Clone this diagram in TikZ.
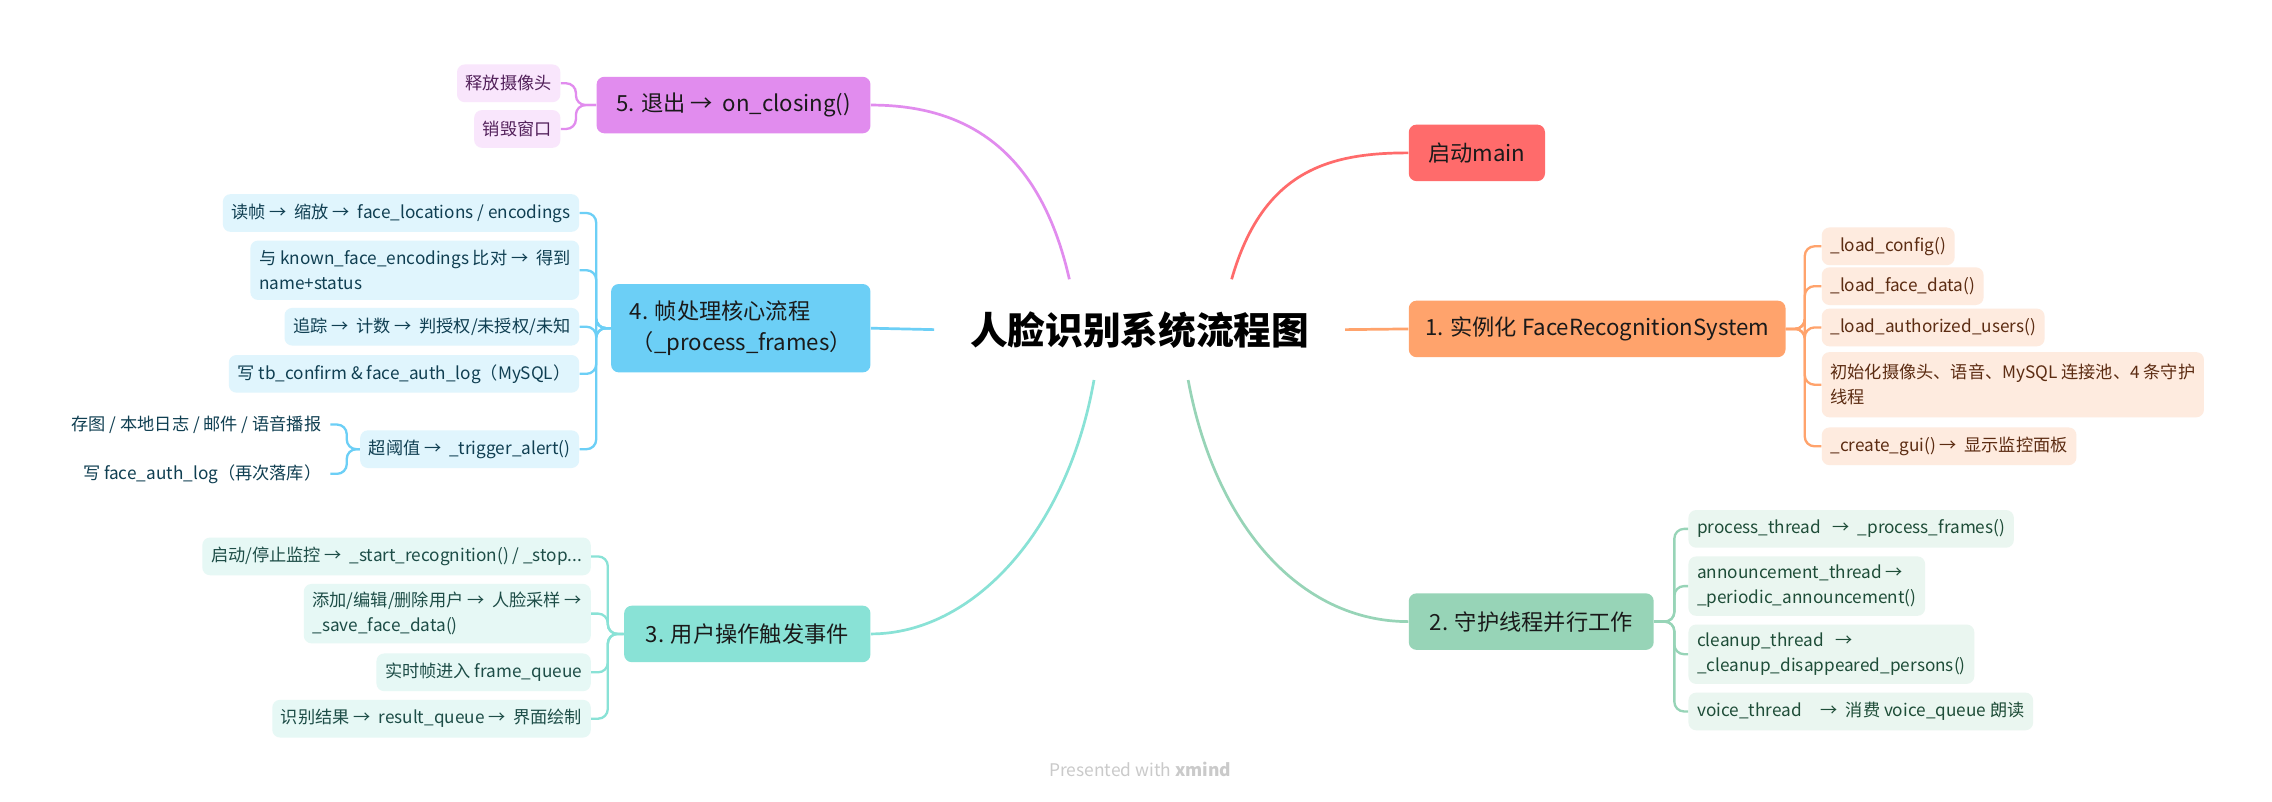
\documentclass[tikz,border=0pt]{standalone}
\usepackage{fontspec}
\setmainfont{Noto Sans CJK SC}
\usetikzlibrary{calc}
\definecolor{cRed}{HTML}{FF6B6B}
\definecolor{cOrange}{HTML}{FFA36C}
\definecolor{lOrange}{HTML}{FEEBDF}
\definecolor{tOrange}{HTML}{5C2C12}
\definecolor{cGreen}{HTML}{97D4B7}
\definecolor{lGreen}{HTML}{EAF6F0}
\definecolor{tGreen}{HTML}{1E4D38}
\definecolor{cTeal}{HTML}{89E2D6}
\definecolor{lTeal}{HTML}{E6F8F5}
\definecolor{tTeal}{HTML}{1D4D47}
\definecolor{cBlue}{HTML}{6CCFF6}
\definecolor{lBlue}{HTML}{E0F5FD}
\definecolor{tBlue}{HTML}{103F52}
\definecolor{cPurple}{HTML}{E18CEE}
\definecolor{lPurple}{HTML}{F9E6FC}
\definecolor{tPurple}{HTML}{52205A}
\definecolor{tMain}{HTML}{1A1A1A}
\definecolor{cFoot}{HTML}{CACACA}
\begin{document}
\begin{tikzpicture}[x=0.75pt,y=-0.75pt,
  mainbox/.style={rounded corners=4pt, minimum height=29.25pt, inner xsep=0pt, inner ysep=2pt,
    font=\fontsize{11.5}{16}\selectfont, text=tMain, align=left},
  kid/.style={rounded corners=4pt, minimum height=19.5pt, inner xsep=4.5pt, inner ysep=3pt,
    font=\fontsize{8.9}{12.8}\selectfont, align=left},
  bigline/.style={line width=1.4pt},
  kidline/.style={line width=1.2pt, rounded corners=5pt}
]
\useasboundingbox (0,0) rectangle (1568,553);
\fill[white] (0,0) rectangle (1568,553);

% root
\node[minimum width=212.25pt, minimum height=51.75pt, font=\fontsize{19.5}{24}\selectfont\bfseries] (root) at (786.5,227.5) {人脸识别系统流程图};

% main branches
\node[mainbox, fill=cRed, minimum width=70.5pt, anchor=west] (m0) at (972,105.5) {启动main};
\node[mainbox, fill=cOrange, minimum width=195pt, anchor=west] (m1) at (972,227) {1. 实例化 FaceRecognitionSystem};
\node[mainbox, fill=cGreen, minimum width=126.75pt, anchor=west] (m2) at (972,429) {2. 守护线程并行工作};
\node[mainbox, fill=cTeal, minimum width=127.5pt, anchor=east] (m3) at (601,437.5) {3. 用户操作触发事件};
\node[mainbox, fill=cBlue, minimum width=134.25pt, minimum height=45.75pt, anchor=east] (m4) at (601,226.5) {4. 帧处理核心流程\\\hspace*{0.1em}（\_process\_frames）};
\node[mainbox, fill=cPurple, minimum width=141.75pt, anchor=east] (m5) at (601,72.5) {5. 退出 →\ \ on\_closing()};

% root connectors
\draw[bigline, cRed] ($(root.north)+(63.5,0)$) .. controls ($(root.north)+(85,-75)$) and ($(m0.west)+(-55,0)$) .. (m0.west);
\draw[bigline, cOrange] (root.east) -- (m1.west);
\draw[bigline, cGreen] ($(root.south)+(33.5,0)$) .. controls ($(root.south)+(52,100)$) and ($(m2.west)+(-75,0)$) .. (m2.west);
\draw[bigline, cTeal] ($(root.south)+(-31.5,0)$) .. controls ($(root.south)+(-50,105)$) and ($(m3.east)+(70,0)$) .. (m3.east);
\draw[bigline, cBlue] (root.west) -- (m4.east);
\draw[bigline, cPurple] ($(root.north)+(-48.5,0)$) .. controls ($(root.north)+(-70,-95)$) and ($(m5.east)+(60,0)$) .. (m5.east);

% group 1
\begin{scope}[every node/.style={kid, fill=lOrange, text=tOrange, anchor=west}]
\node (c11) at (1257,170) {\_load\_config()};
\node (c12) at (1257,197.5) {\_load\_face\_data()};
\node (c13) at (1257,226) {\_load\_authorized\_users()};
\node[minimum height=33.75pt] (c14) at (1257,265.5) {初始化摄像头、语音、MySQL 连接池、4 条守护\\线程};
\node (c15) at (1257,308) {\_create\_gui() →\ \ 显示监控面板};
\end{scope}
\foreach \c in {c11,c12,c13,c14,c15}
  \draw[kidline, cOrange] (m1.east) -- ++(13,0) |- (\c.west);

% group 2
\begin{scope}[every node/.style={kid, fill=lGreen, text=tGreen, anchor=west}]
\node (c21) at (1165,365) {process\_thread\ \ \ →\ \ \_process\_frames()};
\node[minimum height=30.75pt] (c22) at (1165,404.5) {announcement\_thread →\\\_periodic\_announcement()};
\node[minimum height=30.75pt] (c23) at (1165,451.5) {cleanup\_thread\ \ \ →\\\_cleanup\_disappeared\_persons()};
\node (c24) at (1165,491) {voice\_thread\ \ \ \ \ →\ \ 消费 voice\_queue 朗读};
\end{scope}
\foreach \c in {c21,c22,c23,c24}
  \draw[kidline, cGreen] (m2.east) -- ++(14,0) |- (\c.west);

% group 5
\begin{scope}[every node/.style={kid, fill=lPurple, text=tPurple, anchor=east}]
\node (c51) at (387,57.5) {释放摄像头};
\node (c52) at (387,89) {销毁窗口};
\end{scope}
\foreach \c in {c51,c52}
  \draw[kidline, cPurple] (m5.west) -- ++(-14,0) |- (\c.east);

% group 4
\begin{scope}[every node/.style={kid, fill=lBlue, text=tBlue, anchor=east}]
\node (c41) at (400,147) {读帧 →\ \ 缩放 →\ \ face\_locations / encodings};
\node[minimum height=30.75pt] (c42) at (400,186.5) {与 known\_face\_encodings 比对 →\ \ 得到\\name+status};
\node (c43) at (400,225.5) {追踪 →\ \ 计数 →\ \ 判授权/未授权/未知};
\node (c44) at (400,258) {写 tb\_confirm \& face\_auth\_log（MySQL）};
\node (c45) at (400,310) {超阈值 →\ \ \_trigger\_alert()};
\end{scope}
\foreach \c in {c41,c42,c43,c44,c45}
  \draw[kidline, cBlue] (m4.west) -- ++(-10,0) |- (\c.east);

% sub group of alert
\begin{scope}[every node/.style={kid, text=tBlue, anchor=east}]
\node (c451) at (228,293) {存图 / 本地日志 / 邮件 / 语音播报};
\node (c452) at (228,327) {写 face\_auth\_log（再次落库）};
\end{scope}
\foreach \c in {c451,c452}
  \draw[kidline, cBlue] (c45.west) -- ++(-9,0) |- (\c.east);

% group 3
\begin{scope}[every node/.style={kid, fill=lTeal, text=tTeal, anchor=east}]
\node (c31) at (408,384) {启动/停止监控 →\ \ \_start\_recognition() / \_stop...};
\node[minimum height=30.75pt] (c32) at (408,423.5) {添加/编辑/删除用户 →\ \ 人脸采样 →\\\_save\_face\_data()};
\node (c33) at (408,464) {实时帧进入 frame\_queue};
\node (c34) at (408,496) {识别结果 →\ \ result\_queue →\ \ 界面绘制};
\end{scope}
\foreach \c in {c31,c32,c33,c34}
  \draw[kidline, cTeal] (m3.west) -- ++(-11,0) |- (\c.east);

% footer
\node[font=\fontsize{9}{10}\selectfont, text=cFoot] (foot) at (787,531) {Presented with \textbf{xmind}};
\end{tikzpicture}
\end{document}
